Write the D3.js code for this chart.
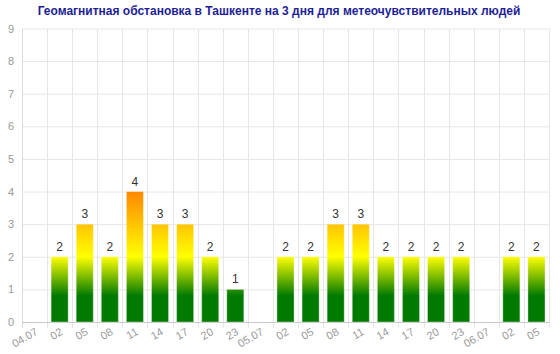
<!DOCTYPE html>
<html><head><meta charset="utf-8">
<script src="https://cdn.jsdelivr.net/npm/d3@7"></script>
<style>body{margin:0;background:#fff}svg{display:block}text{font-family:"Liberation Sans",Arial,sans-serif}</style>
</head><body><svg id="c" width="560" height="354"></svg>
<script>
const title = "Геомагнитная обстановка в Ташкенте на 3 дня для метеочувствительных людей";
const categories = ["04.07","02","05","08","11","14","17","20","23","05.07","02","05","08","11","14","17","20","23","06.07","02","05"];
const values = [null,2,3,2,4,3,3,2,1,null,2,2,3,3,2,2,2,2,null,2,2];
const yTicks = [0,1,2,3,4,5,6,7,8,9];

const svg = d3.select("#c");
const m = {l:22, r:11, t:28.5, b:32};
const W = 560, H = 354;
const x = d3.scaleBand().domain(d3.range(categories.length)).range([m.l, W - m.r]).paddingInner(0.32).paddingOuter(0.16);
const xb = d3.scaleLinear().domain([0, categories.length]).range([m.l, W - m.r]);
const y = d3.scaleLinear().domain([0, 9]).range([H - m.b, m.t]);

const defs = svg.append("defs");
const g = defs.append("linearGradient").attr("id","grad").attr("gradientUnits","userSpaceOnUse")
  .attr("x1",0).attr("x2",0).attr("y1",y(0)).attr("y2",y(4));
[[0,"#007a00"],[0.2,"#007a00"],[0.5,"#ffff00"],[0.75,"#ffc400"],[1,"#ff8800"]].forEach(([o,c])=>g.append("stop").attr("offset",o).attr("stop-color",c));

// horizontal grid
svg.append("g").selectAll("line").data(yTicks.filter(d=>d>0)).join("line")
  .attr("x1",m.l).attr("x2",W-m.r).attr("y1",d=>y(d)+0.5).attr("y2",d=>y(d)+0.5)
  .attr("stroke","#e6e6e6");
// vertical grid
svg.append("g").selectAll("line").data(d3.range(categories.length+1)).join("line")
  .attr("x1",d=>Math.round(xb(d))+0.5).attr("x2",d=>Math.round(xb(d))+0.5)
  .attr("y1",m.t).attr("y2",H-m.b+6)
  .attr("stroke",(d)=>d===0?"#dcdcdc":"#e6e6e6");
// x axis line
svg.append("line").attr("x1",m.l).attr("x2",W-m.r).attr("y1",y(0)+0.5).attr("y2",y(0)+0.5).attr("stroke","#c8c8c8");

// y labels
svg.append("g").selectAll("text").data(yTicks).join("text")
  .attr("x",14).attr("y",d=>y(d)+4).attr("text-anchor","end")
  .attr("font-size",11).attr("fill","#999").text(d=>d);

// bars
const data = values.map((v,i)=>({i,v})).filter(d=>d.v!==null);
svg.append("g").selectAll("rect").data(data).join("rect")
  .attr("x",d=>x(d.i)).attr("width",x.bandwidth())
  .attr("y",d=>y(d.v)).attr("height",d=>y(0)-y(d.v))
  .attr("fill","url(#grad)").attr("stroke","rgba(255,255,255,0.35)").attr("stroke-width",1);
// value labels
svg.append("g").selectAll("text").data(data).join("text")
  .attr("x",d=>x(d.i)+x.bandwidth()/2).attr("y",d=>y(d.v)-6)
  .attr("text-anchor","middle").attr("font-size",12).attr("fill","#333").text(d=>d.v);

// x labels
svg.append("g").selectAll("text").data(categories).join("text")
  .attr("transform",(d,i)=>`translate(${x(i)+x.bandwidth()/2+4},${H-m.b+12}) rotate(-30)`)
  .attr("text-anchor","end").attr("font-size",11).attr("fill","#999").text(d=>d);

// title
svg.append("text").attr("x",279).attr("y",15).attr("text-anchor","middle")
  .attr("font-size",12).attr("font-weight","bold").attr("fill","#1e1e96").text(title);
</script></body></html>
